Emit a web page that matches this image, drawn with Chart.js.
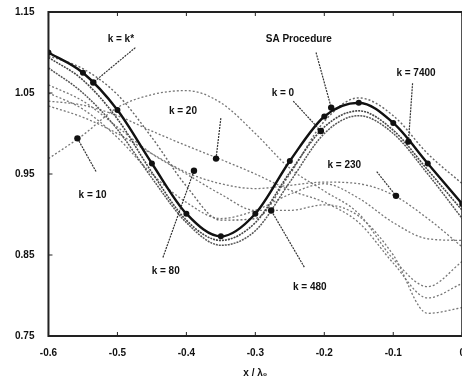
<!DOCTYPE html>
<html><head><meta charset="utf-8">
<script src="https://cdn.jsdelivr.net/npm/chart.js@4/dist/chart.umd.min.js"></script>
<style>
html,body{margin:0;padding:0;background:#fff;overflow:hidden;width:462px;height:383px}
#wrap{position:absolute;left:0;top:0;width:468px;height:383px}
</style>
</head><body><div id="wrap"><canvas id="c"></canvas></div>
<script>
const xValues = [-0.6,-0.55,-0.5,-0.45,-0.4,-0.35,-0.3,-0.25,-0.2,-0.15,-0.1,-0.05,0];
const xTicks = [-0.6,-0.5,-0.4,-0.3,-0.2,-0.1,0];
const yTicks = [0.75,0.85,0.95,1.05,1.15];

const saProcedure = [1.100,1.075,1.029,0.963,0.901,0.873,0.901,0.966,1.021,1.038,1.013,0.963,0.913];
const kStar  = [1.094,1.066,1.018,0.952,0.893,0.868,0.890,0.952,1.008,1.028,1.004,0.955,0.905];
const k0     = [1.081,1.050,1.005,0.945,0.890,0.862,0.880,0.940,1.000,1.022,1.000,0.950,0.895];
const k7400  = [1.096,1.080,1.048,0.995,0.935,0.893,0.895,0.950,1.015,1.044,1.022,0.975,0.938];
const k10    = [0.969,0.998,1.032,1.048,1.053,1.038,1.000,0.957,0.929,0.901,0.845,0.811,0.842];
const k20    = [1.040,1.035,1.022,1.003,0.985,0.968,0.950,0.930,0.915,0.890,0.840,0.797,0.815];
const k80    = [1.060,1.040,1.008,0.975,0.950,0.925,0.905,0.905,0.912,0.898,0.850,0.778,0.785];
const k230   = [1.034,1.020,1.000,0.975,0.952,0.938,0.932,0.936,0.940,0.938,0.924,0.895,0.860];
const k480   = [1.050,1.030,0.995,0.950,0.915,0.895,0.905,0.925,0.938,0.920,0.890,0.870,0.868];

const seriesNames = ['SA Procedure','k = k*','k = 0','k = 7400','k = 10','k = 20','k = 80','k = 230','k = 480'];
const seriesValues = [saProcedure,kStar,k0,k7400,k10,k20,k80,k230,k480];

const labelText = ['k = k*','SA Procedure','k = 7400','k = 0','k = 20','k = 10','k = 230','k = 80','k = 480'];
const labelPos = [[-0.495,1.116],[-0.237,1.116],[-0.067,1.075],[-0.260,1.050],[-0.405,1.028],[-0.536,0.924],[-0.171,0.961],[-0.430,0.830],[-0.221,0.810]];
const arrowFrom = [[-0.474,1.106],[-0.212,1.100],[-0.072,1.062],[-0.245,1.040],[-0.350,1.019],[-0.531,0.953],[-0.124,0.953],[-0.434,0.847],[-0.229,0.835]];
const arrowTo = [[-0.535,1.063],[-0.190,1.032],[-0.078,0.990],[-0.205,1.003],[-0.357,0.969],[-0.558,0.994],[-0.096,0.923],[-0.389,0.954],[-0.277,0.905]];

const styles = [
  {c:'#111', w:2.4, d:[], p:3},
  {c:'#444', w:1.6, d:[2,1], p:0},
  {c:'#555', w:1.5, d:[2,1], p:0},
  {c:'#666', w:1.4, d:[2,2], p:0},
  {c:'#777', w:1.3, d:[2,2], p:0},
  {c:'#777', w:1.3, d:[2,2], p:0},
  {c:'#777', w:1.3, d:[2,2], p:0},
  {c:'#777', w:1.3, d:[2,2], p:0},
  {c:'#777', w:1.3, d:[2,2], p:0}
];

const datasets = seriesValues.map((vals,i)=>({
  label: seriesNames[i],
  data: vals.map((v,j)=>({x:xValues[j], y:v})),
  borderColor: styles[i].c,
  backgroundColor: styles[i].c,
  borderWidth: styles[i].w,
  borderDash: styles[i].d,
  pointRadius: styles[i].p,
  pointBorderWidth: 0,
  cubicInterpolationMode: 'monotone',
  fill: false
}));

const FONT = 'bold 10px "Liberation Sans", Arial, sans-serif';

const overlay = {
  id:'overlay',
  afterDatasetsDraw(chart){
    const {ctx, chartArea:a, scales:{x,y}} = chart;
    ctx.save();
    ctx.strokeStyle='#222'; ctx.lineWidth=2;
    ctx.strokeRect(a.left, a.top, a.right-a.left, a.bottom-a.top);
    ctx.lineWidth=1;
    xTicks.forEach(v=>{const px=x.getPixelForValue(v); ctx.beginPath(); ctx.moveTo(px,a.bottom); ctx.lineTo(px,a.bottom-4); ctx.stroke();
      ctx.beginPath(); ctx.moveTo(px,a.top); ctx.lineTo(px,a.top+4); ctx.stroke();});
    yTicks.forEach(v=>{const py=y.getPixelForValue(v); ctx.beginPath(); ctx.moveTo(a.left,py); ctx.lineTo(a.left+4,py); ctx.stroke();});
    ctx.font = FONT; ctx.fillStyle='#111'; ctx.textAlign='center'; ctx.textBaseline='middle';
    labelText.forEach((t,i)=>{
      ctx.fillText(t, x.getPixelForValue(labelPos[i][0]), y.getPixelForValue(labelPos[i][1]));
      const fx=x.getPixelForValue(arrowFrom[i][0]), fy=y.getPixelForValue(arrowFrom[i][1]);
      const tx=x.getPixelForValue(arrowTo[i][0]), ty=y.getPixelForValue(arrowTo[i][1]);
      ctx.strokeStyle='#333'; ctx.lineWidth=1.2; ctx.setLineDash([2,1]);
      ctx.beginPath(); ctx.moveTo(fx,fy); ctx.lineTo(tx,ty); ctx.stroke();
      ctx.setLineDash([]);
      ctx.beginPath(); ctx.arc(tx,ty,3.2,0,Math.PI*2); ctx.fill();
    });
    ctx.restore();
  }
};

new Chart(document.getElementById('c'), {
  type:'line',
  data:{datasets},
  options:{
    responsive:true, maintainAspectRatio:false, animation:false,
    layout:{padding:{left:9, top:11, right:0, bottom:4}},
    plugins:{legend:{display:false}, tooltip:{enabled:false}},
    scales:{
      x:{type:'linear', min:-0.6, max:0,
        afterBuildTicks:s=>{s.ticks = xTicks.map(v=>({value:v}));},
        ticks:{color:'#111', font:{family:'"Liberation Sans", Arial, sans-serif', size:10, weight:'bold'}, padding:3, maxRotation:0,
          callback:v=> v===0 ? '0' : (Math.round(v*10)/10).toFixed(1)},
        grid:{display:false}, border:{display:false},
        title:{display:true, text:'x / λ₀', color:'#111', font:{family:'"Liberation Sans", Arial, sans-serif', size:10, weight:'bold'}, padding:{top:5,bottom:0}}
      },
      y:{type:'linear', min:0.75, max:1.15,
        afterBuildTicks:s=>{s.ticks = yTicks.map(v=>({value:v}));},
        ticks:{color:'#111', font:{family:'"Liberation Sans", Arial, sans-serif', size:10, weight:'bold'}, padding:6,
          callback:v=>v.toFixed(2)},
        grid:{display:false}, border:{display:false}
      }
    }
  },
  plugins:[overlay]
});
</script>
</body></html>
